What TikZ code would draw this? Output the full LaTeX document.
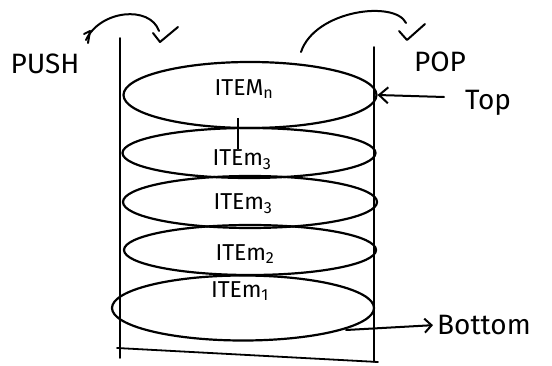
\documentclass[tikz,border=0pt]{standalone}
\usepackage{fontspec}
\setmainfont{Fira Sans}
\usetikzlibrary{shapes.geometric,arrows.meta}
\begin{document}
\begin{tikzpicture}[x=1pt,y=-1pt,
  wall/.style={line width=1.8pt,line cap=round},
  disc/.style={draw,ellipse,line width=2.2pt,inner sep=0pt},
  lbl/.style={font=\fontsize{28}{30}\selectfont,inner sep=1pt},
  itm/.style={font=\fontsize{23}{24}\selectfont,inner sep=1pt},
  stroke/.style={line width=2pt,line cap=round,line join=round}]
\useasboundingbox (0,0) rectangle (552,366);
% container
\coordinate (lt) at (120,38);
\coordinate (lb) at (120,358);
\coordinate (rt) at (374,47);
\coordinate (rb) at (374,362);
\coordinate (bl) at (117,348);
\coordinate (br) at (378,362);
\draw[wall] (lt) -- (lb);
\draw[wall] (rt) -- (rb);
\draw[wall] (bl) -- (br);
% discs
\node[disc,minimum width=253pt,minimum height=66pt] (e5) at (250,95) {};
\node[disc,minimum width=253pt,minimum height=50pt] (e4) at (249,153) {};
\node[disc,minimum width=254pt,minimum height=52pt] (e3) at (250,202) {};
\node[disc,minimum width=252pt,minimum height=50pt] (e2) at (250,250) {};
\node[disc,minimum width=262pt,minimum height=65pt] (e1) at (243,308) {};
% labels
\node[itm] (t5) at (244,89) {ITEM\textsubscript{n}};
\node[itm] (t4) at (242,160) {ITEm\textsubscript{3}};
\node[itm] (t3) at (243,204) {ITEm\textsubscript{3}};
\node[itm] (t2) at (245,254) {ITEm\textsubscript{2}};
\node[itm] (t1) at (240,291) {ITEm\textsubscript{1}};
\draw[line width=1.2pt] (238,118) coordinate (d1) -- (t4.north -| d1);
% push
\node[lbl] (push) at (45,64) {PUSH};
\coordinate (pa) at (86,40);
\coordinate (pb) at (159,31);
\draw[stroke] (pa) .. controls (100,10) and (150,5) .. (pb);
\draw[stroke] (84,34) -- (90,31) -- (88,43);
\draw[stroke] (153,33) -- (160,42) -- (178,27);
% pop
\node[lbl] (pop) at (440,62) {POP};
\coordinate (qa) at (301,52);
\coordinate (qb) at (406,23);
\draw[stroke] (qa) .. controls (315,10) and (395,0) .. (qb);
\draw[stroke] (399,31) -- (407,40) -- (425,24);
% top
\node[lbl] (top) at (488,103) {Top};
\coordinate (ta) at (444,97);
\draw[stroke,-{Straight Barb[length=9pt,width=16pt]}] (ta) -- (e5.east);
% bottom
\node[lbl,anchor=west] (bottom) at (436,325) {Bottom};
\coordinate (ba) at (346,330);
\draw[stroke,shorten >=3pt,-{Straight Barb[length=7pt,width=14pt]}] (ba) -- (bottom.west);
\end{tikzpicture}
\end{document}
